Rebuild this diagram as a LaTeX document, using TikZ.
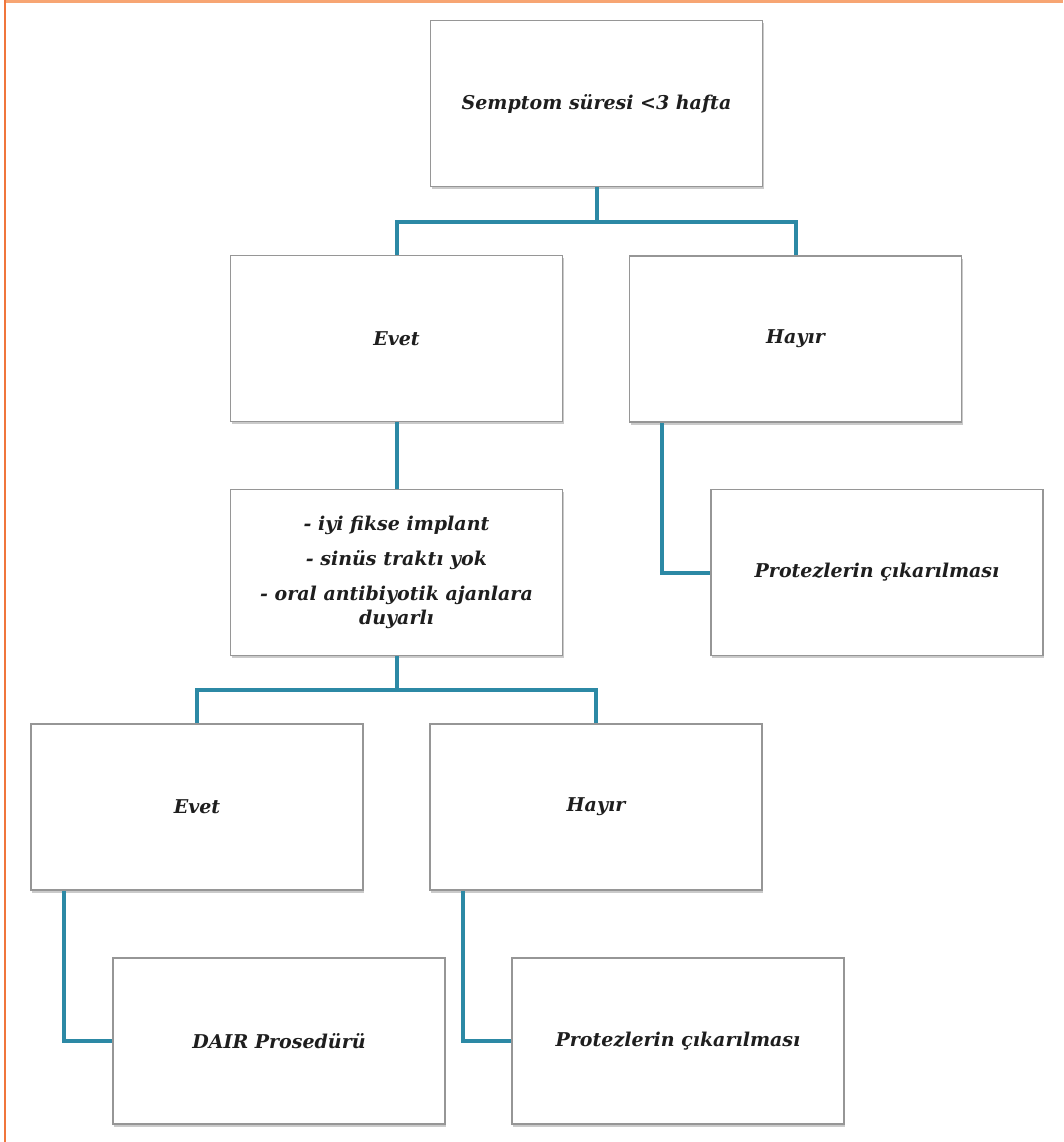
\documentclass[tikz,border=0pt]{standalone}
\usepackage{fontspec}
\setmainfont{DejaVu Serif}
\usetikzlibrary{calc,shadows}
\definecolor{connc}{RGB}{44,137,165}
\definecolor{boxline}{RGB}{150,150,150}
\definecolor{txtc}{RGB}{30,30,30}
\definecolor{orangetop}{RGB}{247,165,115}
\definecolor{orangeleft}{RGB}{240,118,60}
\begin{document}
\begin{tikzpicture}[x=1pt,y=-1pt,
  box/.style={draw=boxline, line width=1.6pt, fill=white, minimum width=332pt, minimum height=166pt,
    inner sep=0pt, align=center, text=txtc,
    font=\fontsize{19}{24}\selectfont\bfseries\itshape,
    drop shadow={shadow xshift=1pt, shadow yshift=-2.5pt, opacity=0.35, fill=black!60}},
  conn/.style={draw=connc, line width=4pt, line cap=butt, line join=miter}]
\useasboundingbox (0,0) rectangle (1063,1142);
\draw[orangetop, line width=3pt] (5,1.5) -- (1063,1.5);
\draw[orangeleft, line width=2pt] (5,0) -- (5,1142);

\coordinate (j1) at (596.5,222);
\coordinate (j2) at (396.5,690);

\node[box] (top) at (596.5,103.5) {Semptom süresi <3 hafta};
\node[box] (evet1) at (396.5,338.5) {Evet};
\node[box] (hayir1) at (795.5,339) {Hayır};
\node[box] (mid) at (396.5,572.5) {- iyi fikse implant\\[11pt] - sinüs traktı yok\\[11pt] - oral antibiyotik ajanlara\\ duyarlı};
\node[box] (protez1) at (877,572.5) {Protezlerin çıkarılması};
\node[box] (evet2) at (197,807) {Evet};
\node[box] (hayir2) at (596,807) {Hayır};
\node[box] (dair) at (279,1041) {DAIR Prosedürü};
\node[box] (protez2) at (678,1041) {Protezlerin çıkarılması};

\draw[conn] (top.south) -- (j1);
\draw[conn] (evet1.north) |- (j1) -| (hayir1.north);
\draw[conn] (evet1.south) -- (mid.north);
\draw[conn] (mid.south) -- (j2);
\draw[conn] (evet2.north) |- (j2) -| (hayir2.north);
\draw[conn] ($(hayir1.south west)+(33,0)$) |- (protez1.west);
\draw[conn] ($(evet2.south west)+(34,0)$) |- (dair.west);
\draw[conn] ($(hayir2.south west)+(34,0)$) |- (protez2.west);
\end{tikzpicture}
\end{document}
